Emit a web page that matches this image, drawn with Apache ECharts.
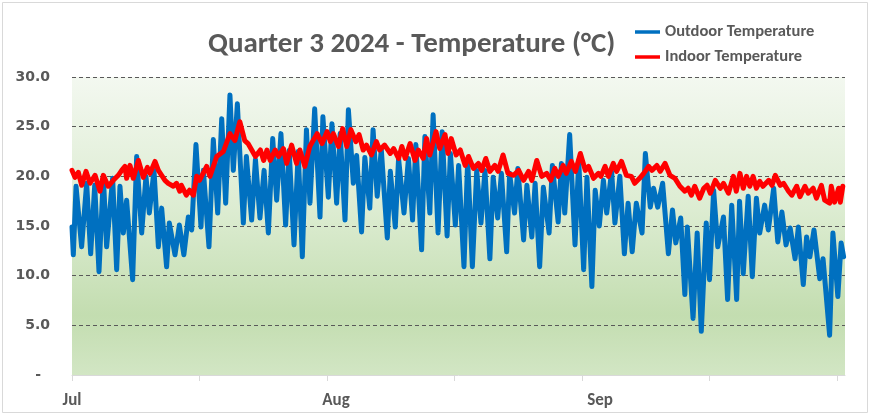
<!DOCTYPE html>
<html><head><meta charset="utf-8">
<script src="https://cdn.jsdelivr.net/npm/echarts@6/dist/echarts.min.js"></script>
<style>html,body{margin:0;padding:0;background:#fff}#c{width:870px;height:419px}</style>
</head><body><div id="c"></div>
<script>
// days since 1 Jul 2024, temperature in °C
const outdoor = [
[0,14.9],[0.16,12.1],[0.49,19.0],[1.17,12.9],[1.78,19.3],[2.27,12.2],[2.76,19.1],[3.28,10.4],[3.81,20.0],[4.21,12.9],
[4.94,19.8],[5.43,10.6],[5.83,19.0],[6.24,14.3],[6.64,17.6],[7.37,9.6],[7.86,22.0],[8.47,14.3],[8.99,20.0],[9.4,16.3],
[9.97,20.6],[10.5,12.9],[10.9,16.8],[11.5,10.9],[11.83,15.3],[12.52,12.1],[13.05,15.1],[13.6,12.1],[14.14,15.9],[14.55,14.6],
[15.07,23.2],[15.68,14.9],[15.97,20.6],[16.65,12.9],[17.18,23.7],[17.71,16.3],[18.2,25.8],[18.68,17.3],[19.2,28.2],[19.61,20.6],
[20.1,27.3],[20.83,15.3],[21.2,22.0],[21.84,15.6],[22.3,21.7],[22.85,15.8],[23.35,20.6],[23.87,14.3],[24.4,23.8],[24.88,17.6],
[25.4,24.3],[25.97,15.1],[26.4,22.6],[26.99,13.1],[27.5,22.5],[28.0,11.9],[28.5,24.7],[28.93,17.3],[29.5,26.8],[30.15,15.9],
[30.5,26.0],[31.16,17.9],[31.6,25.3],[32.17,17.3],[32.6,24.3],[33.19,15.6],[33.6,26.7],[34.2,19.3],[34.6,22.1],[35.2,14.4],
[35.6,21.9],[36.2,16.8],[36.6,24.7],[37.1,18.0],[37.6,22.7],[38.33,13.8],[38.7,20.5],[39.3,14.9],[39.7,21.8],[40.36,16.3],
[40.9,21.8],[41.4,15.6],[41.8,23.2],[42.5,12.6],[42.9,24.0],[43.5,16.3],[43.9,26.2],[44.5,14.3],[45.0,24.5],[45.6,14.0],
[46.0,22.3],[46.6,15.1],[47.0,21.1],[47.65,10.9],[48.1,21.6],[48.67,10.9],[49.2,20.6],[49.72,15.3],[50.2,20.6],[50.8,11.7],
[51.2,19.9],[51.75,15.8],[52.2,20.3],[52.84,12.4],[53.2,20.3],[53.8,16.3],[54.2,20.8],[54.9,13.6],[55.3,19.1],[55.9,13.9],
[56.3,19.3],[56.85,10.9],[57.3,18.9],[58.0,14.3],[58.4,21.1],[59.1,15.4],[59.5,21.3],[59.9,16.3],[60.5,24.2],[61.15,13.1],
[61.6,21.6],[62.2,10.6],[62.6,19.9],[63.2,8.9],[63.6,18.6],[64.1,15.0],[64.6,19.6],[65.0,16.3],[65.6,20.5],[66.0,15.3],
[66.6,20.0],[67.15,12.2],[67.6,17.3],[68.1,12.4],[68.6,17.3],[69.3,14.3],[69.7,22.3],[70.3,16.9],[70.7,18.8],[71.2,16.9],
[71.8,19.3],[72.5,12.2],[73.0,16.6],[73.4,13.3],[74.0,15.8],[74.5,8.1],[74.8,14.9],[75.5,5.7],[76.0,14.3],[76.5,4.4],
[77.1,15.3],[77.5,9.6],[78.0,18.6],[78.5,12.9],[79.2,15.9],[79.7,7.6],[80.2,17.1],[80.8,7.6],[81.15,17.5],[81.6,10.2],
[82.2,18.0],[82.7,9.9],[83.2,17.8],[83.6,14.3],[84.2,17.1],[84.65,14.6],[85.3,18.8],[85.8,13.4],[86.3,16.4],[86.8,13.1],
[87.3,14.8],[87.9,11.7],[88.3,14.9],[88.9,9.1],[89.3,13.9],[89.7,11.9],[90.2,14.6],[90.9,9.7],[91.3,11.7],[92.1,4.0],
[92.5,14.3],[93.1,7.9],[93.5,13.3],[93.8,11.9]
];
const indoor = [
[0,20.6],[0.36,19.9],[0.77,20.4],[1.18,19.1],[1.7,20.5],[2.19,19.3],[2.8,20.1],[3.4,18.5],[3.81,20.1],[4.4,19.0],
[5.02,19.6],[5.63,20.1],[6.04,20.6],[6.44,21.0],[6.64,19.8],[7.05,21.1],[7.45,19.8],[8.07,21.6],[8.67,19.9],[9.16,20.9],
[9.48,20.3],[10.09,21.5],[10.5,20.6],[11.3,19.6],[11.7,19.3],[12.32,19.0],[12.7,19.3],[13.1,18.5],[13.3,19.1],[13.9,18.1],
[14.3,18.6],[14.75,18.1],[15.15,20.0],[15.5,19.6],[16.37,21.0],[16.77,20.0],[17.59,22.0],[18.4,22.5],[19.2,24.3],[19.8,23.6],
[20.4,25.5],[21.0,23.6],[21.4,23.3],[22.3,22.0],[22.9,22.65],[23.3,21.6],[23.7,22.65],[24.1,21.6],[24.7,22.65],[25.1,22.0],
[25.7,22.8],[26.1,21.3],[26.7,23.15],[27.3,21.3],[27.7,22.65],[28.3,21.0],[28.9,23.0],[29.8,24.3],[30.4,23.3],[31.0,24.5],
[31.4,23.5],[31.77,24.3],[32.4,23.0],[32.9,24.8],[33.4,23.0],[33.9,24.7],[34.5,23.5],[34.9,24.2],[35.4,22.65],[35.8,23.15],
[36.4,22.15],[37.0,23.5],[37.4,22.65],[38.0,23.15],[38.7,22.3],[39.1,22.8],[39.7,21.8],[40.1,23.0],[40.5,21.8],[41.1,23.3],
[41.7,21.6],[42.1,22.65],[42.7,21.8],[43.1,23.8],[43.5,22.15],[44.25,24.5],[44.7,22.8],[45.35,24.2],[45.7,22.3],[46.1,23.8],
[46.7,22.15],[47.2,22.65],[47.8,21.1],[48.2,22.0],[48.8,20.8],[49.4,21.3],[49.8,20.6],[50.3,21.8],[50.8,20.5],[51.4,21.1],
[51.8,20.5],[52.4,22.15],[53.0,20.3],[53.7,20.1],[54.3,20.6],[54.9,19.6],[55.5,20.5],[55.9,19.6],[56.5,21.6],[57.1,20.0],
[57.7,20.3],[58.2,19.6],[58.7,20.8],[59.1,20.0],[59.7,21.1],[60.1,20.3],[60.7,21.5],[61.2,20.5],[61.8,22.3],[62.4,20.6],
[62.8,21.0],[63.4,19.8],[64.0,20.3],[64.3,20.0],[64.8,21.0],[65.2,20.0],[65.8,21.3],[66.2,20.5],[66.8,21.5],[67.4,20.1],
[68.0,20.0],[68.4,19.3],[69.0,19.8],[69.5,20.3],[70.1,21.0],[70.5,20.6],[71.1,21.1],[71.5,20.5],[72.1,21.3],[72.7,20.1],
[73.3,19.8],[73.9,19.0],[74.5,18.5],[74.9,18.8],[75.3,18.1],[75.7,19.0],[76.3,17.8],[76.8,18.8],[77.2,19.1],[77.6,18.3],
[78.2,19.6],[78.8,18.8],[79.2,19.3],[79.8,18.3],[80.4,20.0],[80.75,18.5],[81.2,20.3],[81.6,18.8],[82.0,20.0],[82.4,19.0],
[82.8,20.0],[83.2,18.8],[83.6,19.5],[84.0,19.0],[84.7,19.6],[85.1,19.1],[85.5,20.1],[86.1,19.1],[86.5,19.3],[87.1,18.5],
[87.5,18.1],[88.1,19.0],[88.5,17.95],[89.1,19.0],[89.5,18.3],[90.1,18.8],[90.5,17.8],[91.1,19.1],[91.5,17.6],[92.1,17.3],
[92.3,19.0],[92.7,17.4],[93.2,18.8],[93.4,17.4],[93.7,19.0]
];
const seriesNames = ['Outdoor Temperature', 'Indoor Temperature'];
const tickDays = [0, 15.5, 31, 46.5, 62, 77.5, 93];
const monthLabels = ['Jul', 'Aug', 'Sep'];
const monthLabelDays = [0, 32.1, 64.2];
const yMin = 0, yMax = 30, yStep = 5;

const FONT = 'Carlito, "Liberation Sans Narrow", "Liberation Sans", sans-serif';
const chart = echarts.init(document.getElementById('c'), null, {renderer: 'canvas'});
chart.setOption({
  animation: false,
  backgroundColor: '#ffffff',
  graphic: [{
    type: 'rect', silent: true, z: -10,
    shape: {x: 2.5, y: 2.5, width: 865, height: 410},
    style: {fill: 'none', stroke: '#d9d9d9', lineWidth: 1}
  }],
  title: {
    text: 'Quarter 3 2024 - Temperature (°C)',
    left: 203, top: 25,
    textStyle: {fontFamily: FONT, fontSize: 29, fontWeight: 'bold', color: '#595959'}
  },
  legend: {
    orient: 'vertical', left: 635, top: 23, itemWidth: 25, itemHeight: 3.5, itemGap: 7,
    icon: 'rect', padding: 0,
    data: seriesNames,
    textStyle: {fontFamily: FONT, fontSize: 16.5, fontWeight: 'bold', color: '#595959', lineHeight: 18}
  },
  grid: {
    left: 72, right: 25, top: 77, bottom: 44, show: true, borderWidth: 0,
    backgroundColor: new echarts.graphic.LinearGradient(0, 0, 0, 1, [
      {offset: 0, color: '#f3f8f0'},
      {offset: 0.45, color: '#dcecd1'},
      {offset: 0.8, color: '#c3ddb0'},
      {offset: 1, color: '#d2e6c4'}
    ])
  },
  xAxis: {
    type: 'value', min: 0, max: 93.97,
    axisLine: {show: true, lineStyle: {color: '#d9d9d9'}},
    axisTick: {show: true, length: 6, customValues: tickDays, lineStyle: {color: '#d9d9d9'}},
    splitLine: {show: false},
    axisLabel: {
      customValues: monthLabelDays, margin: 17,
      fontFamily: FONT, fontSize: 17, fontWeight: 'bold', color: '#595959',
      formatter: function (v) {
        let best = 0;
        monthLabelDays.forEach(function (d, i) { if (Math.abs(d - v) < Math.abs(monthLabelDays[best] - v)) best = i; });
        return monthLabels[best];
      }
    }
  },
  yAxis: {
    type: 'value', min: yMin, max: yMax, interval: yStep,
    axisLine: {show: false}, axisTick: {show: false},
    splitLine: {show: true, showMinLine: false, lineStyle: {color: '#595959', type: [4, 3], width: 1}},
    axisLabel: {
      margin: 22, fontFamily: '"DejaVu Sans", sans-serif', fontSize: 14, fontWeight: 'bold', color: '#595959',
      formatter: function (v) { return v === 0 ? '{z|-}' : v.toFixed(1); },
      rich: {z: {fontFamily: '"DejaVu Sans", sans-serif', fontSize: 14, fontWeight: 'bold', color: '#595959', padding: [0, 9, 0, 0]}}
    }
  },
  series: [
    {name: seriesNames[0], type: 'line', data: outdoor, showSymbol: false, symbol: 'none',
     color: '#0070C0', lineStyle: {width: 5, color: '#0070C0', cap: 'round', join: 'round'}},
    {name: seriesNames[1], type: 'line', data: indoor, showSymbol: false, symbol: 'none',
     color: '#FF0000', lineStyle: {width: 5, color: '#FF0000', cap: 'round', join: 'round'}}
  ]
});
</script></body></html>
